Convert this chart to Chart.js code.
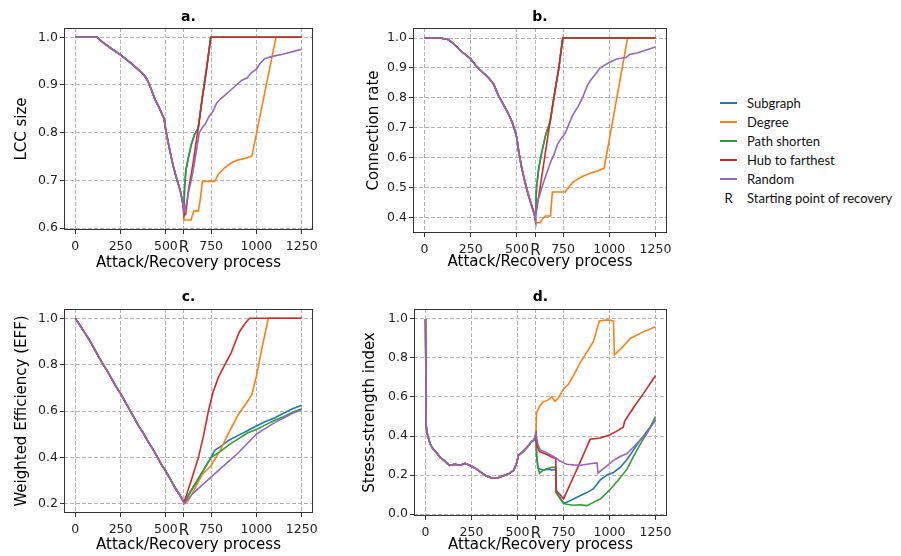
<!DOCTYPE html>
<html>
<head>
<meta charset="utf-8">
<script src="https://cdn.jsdelivr.net/npm/chart.js@4.4.1/dist/chart.umd.min.js"></script>
<style>
  body { margin: 0; background: #fff; }
  #wrap { position: relative; width: 901px; height: 556px; overflow: hidden; }
  canvas { position: absolute; }
  #legend { position: absolute; left: 720px; top: 93px; font-family: Lato, sans-serif; font-size: 13px; color: #111; }
  .row { height: 19px; display: flex; align-items: center; white-space: nowrap; }
  .sw { display: block; flex: 0 0 17px; width: 17px; height: 2px; margin-right: 10px; }
  .rk { flex: 0 0 17px; width: 17px; text-align: center; margin-right: 10px; }
</style>
</head>
<body>
<div id="wrap">
  <canvas id="ca" width="330" height="278" style="left:0;top:0"></canvas>
  <canvas id="cb" width="344" height="281" style="left:340px;top:0"></canvas>
  <canvas id="cc" width="330" height="276" style="left:0;top:280px"></canvas>
  <canvas id="cd" width="344" height="276" style="left:340px;top:280px"></canvas>
  <div id="legend"></div>
</div>
<script>
// tick positions, x = 600 is the start of recovery ("R")
const xTicks = [0, 250, 500, 600, 750, 1000, 1250];
const xTickLabels = ['0', '250', '500', 'R', '750', '1000', '1250'];
const yTicksA = [0.6, 0.7, 0.8, 0.9, 1.0];
const yTicksB = [0.4, 0.5, 0.6, 0.7, 0.8, 0.9, 1.0];
const yTicksC = [0.2, 0.4, 0.6, 0.8, 1.0];
const yTicksD = [0.0, 0.2, 0.4, 0.6, 0.8, 1.0];

const methods = ['Subgraph', 'Degree', 'Path shorten', 'Hub to farthest', 'Random'];
const colors = ['#1f77b4', '#ff7f0e', '#2ca02c', '#d62728', '#9467bd'];

// a. LCC size  ([step, value])
const aAttack = [[0,1.0],[120,1.0],[150,0.99],[200,0.976],[250,0.963],[300,0.948],[340,0.935],[380,0.921],[400,0.909],[420,0.89],[440,0.87],[460,0.855],[480,0.838],[490,0.83],[500,0.804],[510,0.785],[520,0.766],[540,0.731],[560,0.703],[580,0.678],[595,0.65],[600,0.633]];
const aSubgraph = [[600,0.64],[603,0.68],[610,0.72],[623,0.745],[641,0.776],[659,0.797],[678,0.808],[700,0.87],[725,0.935],[748,1.0],[1250,1.0]];
const aDegree = [[600,0.617],[640,0.617],[645,0.625],[655,0.636],[680,0.636],[690,0.66],[702,0.698],[770,0.698],[790,0.713],[826,0.727],[863,0.737],[900,0.743],[937,0.746],[975,0.751],[1108,1.0],[1250,1.0]];
const aPath = [[600,0.64],[603,0.68],[610,0.72],[623,0.745],[641,0.776],[659,0.797],[678,0.808],[700,0.87],[725,0.935],[748,1.0],[1250,1.0]];
const aHub = [[600,0.625],[610,0.63],[625,0.68],[650,0.735],[678,0.808],[700,0.87],[725,0.935],[748,1.0],[1250,1.0]];
const aRandom = [[600,0.633],[610,0.645],[625,0.675],[640,0.70],[655,0.73],[670,0.765],[685,0.80],[700,0.81],[720,0.82],[740,0.835],[760,0.845],[780,0.862],[800,0.87],[830,0.88],[860,0.89],[890,0.90],[920,0.91],[950,0.915],[970,0.925],[1000,0.933],[1020,0.945],[1045,0.955],[1070,0.958],[1100,0.961],[1150,0.965],[1200,0.97],[1250,0.975]];

// b. Connection rate
const bAttack = [[0,1.0],[90,1.0],[100,0.998],[125,0.996],[150,0.985],[175,0.97],[200,0.955],[225,0.943],[250,0.93],[275,0.91],[300,0.894],[325,0.88],[350,0.865],[375,0.845],[400,0.808],[425,0.78],[450,0.752],[475,0.718],[490,0.69],[500,0.665],[510,0.62],[525,0.57],[545,0.515],[565,0.47],[580,0.44],[595,0.41],[600,0.395]];
const bSubgraph = [[600,0.40],[606,0.50],[618,0.565],[635,0.62],[655,0.675],[680,0.721],[700,0.80],[727,0.90],[748,1.0],[1250,1.0]];
const bDegree = [[600,0.383],[627,0.383],[636,0.394],[654,0.406],[682,0.406],[692,0.486],[763,0.486],[772,0.495],[800,0.517],[827,0.528],[863,0.54],[900,0.549],[936,0.556],[972,0.565],[1099,1.0],[1250,1.0]];
const bPath = [[600,0.40],[606,0.50],[618,0.565],[635,0.62],[655,0.675],[680,0.721],[700,0.80],[727,0.90],[748,1.0],[1250,1.0]];
const bHub = [[600,0.41],[605,0.42],[620,0.48],[645,0.58],[672,0.69],[700,0.80],[727,0.90],[748,1.0],[1250,1.0]];
const bRandom = [[600,0.40],[610,0.45],[625,0.48],[645,0.52],[665,0.555],[685,0.59],[700,0.61],[720,0.645],[740,0.665],[760,0.68],[780,0.71],[800,0.74],[830,0.77],[855,0.80],[880,0.84],[900,0.86],[920,0.875],[950,0.90],[990,0.915],[1040,0.93],[1090,0.935],[1110,0.945],[1150,0.95],[1200,0.96],[1250,0.97]];

// c. Weighted Efficiency (EFF)
const cAttack = [[0,1.0],[25,0.97],[50,0.94],[75,0.91],[100,0.875],[125,0.84],[150,0.805],[175,0.775],[200,0.74],[225,0.705],[250,0.675],[275,0.64],[300,0.605],[325,0.57],[350,0.535],[375,0.505],[400,0.47],[425,0.44],[450,0.405],[475,0.37],[500,0.34],[525,0.305],[550,0.27],[575,0.24],[600,0.205]];
const cSubgraph = [[600,0.205],[650,0.27],[700,0.335],[750,0.40],[770,0.43],[800,0.445],[850,0.475],[900,0.495],[950,0.515],[1000,0.535],[1050,0.555],[1100,0.57],[1150,0.59],[1200,0.61],[1250,0.625]];
const cDegree = [[600,0.2],[620,0.21],[650,0.25],[700,0.325],[750,0.365],[800,0.43],[850,0.51],[900,0.585],[950,0.64],[975,0.67],[1000,0.75],[1030,0.87],[1066,1.0],[1250,1.0]];
const cPath = [[600,0.205],[650,0.27],[700,0.335],[750,0.40],[800,0.425],[850,0.455],[900,0.48],[950,0.505],[1000,0.52],[1050,0.54],[1100,0.56],[1150,0.575],[1200,0.595],[1250,0.61]];
const cHub = [[600,0.205],[640,0.30],[680,0.40],[710,0.50],[735,0.60],[760,0.68],[790,0.745],[826,0.80],[860,0.85],[885,0.90],[905,0.94],[935,0.975],[962,1.0],[1250,1.0]];
const cRandom = [[600,0.2],[650,0.245],[700,0.28],[750,0.315],[800,0.35],[850,0.385],[900,0.42],[950,0.46],[1000,0.50],[1050,0.525],[1100,0.55],[1150,0.57],[1200,0.59],[1250,0.605]];

// d. Stress-strength index
const dAttack = [[0,1.0],[4,0.45],[10,0.41],[25,0.36],[40,0.335],[60,0.315],[80,0.29],[100,0.275],[130,0.25],[160,0.255],[190,0.25],[215,0.26],[240,0.25],[270,0.235],[300,0.215],[330,0.195],[360,0.185],[390,0.185],[420,0.195],[450,0.205],[480,0.225],[495,0.26],[505,0.30],[530,0.32],[555,0.345],[575,0.37],[590,0.38],[600,0.41]];
const dSubgraph = [[600,0.41],[604,0.30],[612,0.235],[640,0.225],[668,0.23],[690,0.225],[708,0.23],[710,0.11],[731,0.085],[750,0.055],[768,0.06],[804,0.077],[840,0.094],[877,0.11],[913,0.13],[950,0.175],[986,0.20],[1022,0.213],[1059,0.24],[1095,0.28],[1132,0.33],[1168,0.38],[1204,0.425],[1250,0.48]];
const dDegree = [[600,0.41],[604,0.52],[622,0.555],[640,0.575],[668,0.585],[686,0.60],[704,0.578],[722,0.595],[750,0.64],[777,0.665],[804,0.71],[840,0.775],[877,0.83],[913,0.885],[945,0.99],[990,0.995],[1022,0.99],[1026,0.815],[1060,0.845],[1113,0.90],[1186,0.935],[1250,0.96]];
const dPath = [[600,0.41],[604,0.30],[610,0.24],[620,0.21],[640,0.225],[668,0.235],[690,0.24],[708,0.24],[710,0.11],[731,0.08],[750,0.055],[768,0.05],[804,0.045],[840,0.048],[877,0.043],[913,0.06],[950,0.077],[986,0.11],[1022,0.145],[1059,0.187],[1095,0.23],[1132,0.298],[1168,0.36],[1204,0.415],[1250,0.50]];
const dHub = [[600,0.41],[606,0.35],[620,0.32],[660,0.305],[690,0.29],[708,0.285],[710,0.12],[731,0.10],[750,0.077],[768,0.115],[804,0.19],[840,0.265],[877,0.345],[895,0.383],[950,0.39],[1000,0.405],[1040,0.425],[1075,0.445],[1082,0.475],[1130,0.545],[1190,0.625],[1250,0.71]];
const dRandom = [[600,0.41],[609,0.366],[622,0.33],[659,0.315],[695,0.295],[731,0.272],[768,0.255],[804,0.252],[840,0.25],[877,0.255],[913,0.26],[932,0.262],[938,0.21],[950,0.22],[986,0.247],[1022,0.275],[1059,0.295],[1095,0.31],[1132,0.345],[1168,0.38],[1204,0.415],[1250,0.485]];

const FONT = 'DejaVu Sans';

// axes box like matplotlib
const framePlugin = {
  id: 'frame',
  afterDatasetsDraw(chart) {
    const { ctx, chartArea: a } = chart;
    ctx.save();
    ctx.strokeStyle = '#333';
    ctx.lineWidth = 1;
    ctx.strokeRect(Math.round(a.left) + 0.5, Math.round(a.top) + 0.5,
      Math.round(a.right - a.left) - 1, Math.round(a.bottom - a.top) - 1);
    ctx.restore();
  }
};

function makePanel(id, p) {
  const datasets = p.series.map((rec, i) => ({
    label: methods[i],
    data: p.attack.concat(rec).map(d => ({ x: d[0], y: d[1] })),
    borderColor: colors[i],
    borderWidth: 1.6,
    pointRadius: 0,
    tension: 0,
    fill: false,
    order: 4 - i
  }));
  new Chart(document.getElementById(id), {
    type: 'line',
    data: { datasets },
    plugins: [framePlugin],
    options: {
      responsive: false,
      animation: false,
      layout: { autoPadding: false, padding: { left: 0, top: 0, right: p.padRight, bottom: 0 } },
      plugins: {
        legend: { display: false },
        tooltip: { enabled: false },
        title: {
          display: true, text: p.title, fullSize: false, color: '#000',
          font: { family: FONT, size: 14, weight: 'bold' },
          padding: { top: p.titleTop, bottom: p.titleBottom }
        }
      },
      scales: {
        x: {
          type: 'linear', min: -62.5, max: 1312.5,
          afterFit: s => { s.height = p.xH; },
          afterBuildTicks: s => { s.ticks = xTicks.map(v => ({ value: v })); },
          ticks: {
            autoSkip: false, maxRotation: 0, padding: 5, color: '#222',
            callback: v => xTickLabels[xTicks.indexOf(v)],
            font: c => ({ family: FONT, size: (c.tick && c.tick.value === 600) ? 15 : 12.5 })
          },
          grid: { color: '#b4b4b4', lineWidth: 1, tickLength: 4, tickColor: '#333', tickBorderDash: [] },
          border: { display: false, dash: [4, 2] },
          title: { display: true, text: 'Attack/Recovery process', color: '#000',
            font: { family: FONT, size: 15 }, padding: { top: 0, bottom: p.xTitleBottom } }
        },
        y: {
          type: 'linear', min: p.ymin, max: p.ymax,
          afterFit: s => { s.width = p.yW; },
          afterBuildTicks: s => { s.ticks = p.yTicks.map(v => ({ value: v })); },
          ticks: { padding: 2, color: '#222', font: { family: FONT, size: 12.5 }, callback: v => v.toFixed(1) },
          grid: { color: '#b4b4b4', lineWidth: 1, tickLength: 4, tickColor: '#333', tickBorderDash: [] },
          border: { display: false, dash: [4, 2] },
          title: { display: true, text: p.ylabel, color: '#000',
            font: { family: FONT, size: 15 }, padding: { top: p.yTitleTop, bottom: 0 } }
        }
      }
    }
  });
}

makePanel('ca', { title: 'a.', ylabel: 'LCC size', attack: aAttack,
  series: [aSubgraph, aDegree, aPath, aHub, aRandom], yTicks: yTicksA, ymin: 0.596, ymax: 1.0195,
  padRight: 17, yW: 64, xH: 48, titleTop: 9, titleBottom: 2.2, yTitleTop: 13.5, xTitleBottom: 6 });
makePanel('cb', { title: 'b.', ylabel: 'Connection rate', attack: bAttack,
  series: [bSubgraph, bDegree, bPath, bHub, bRandom], yTicks: yTicksB, ymin: 0.349, ymax: 1.0335,
  padRight: 17, yW: 73, xH: 48, titleTop: 9, titleBottom: 2.2, yTitleTop: 25.5, xTitleBottom: 10 });
makePanel('cc', { title: 'c.', ylabel: 'Weighted Efficiency (EFF)', attack: cAttack,
  series: [cSubgraph, cDegree, cPath, cHub, cRandom], yTicks: yTicksC, ymin: 0.16, ymax: 1.04,
  padRight: 17, yW: 64, xH: 43, titleTop: 9.4, titleBottom: 2.8, yTitleTop: 13.5, xTitleBottom: 2 });
makePanel('cd', { title: 'd.', ylabel: 'Stress-strength index', attack: dAttack,
  series: [dSubgraph, dDegree, dPath, dHub, dRandom], yTicks: yTicksD, ymin: -0.01, ymax: 1.051,
  padRight: 17, yW: 74, xH: 40, titleTop: 9.4, titleBottom: 2.8, yTitleTop: 21.5, xTitleBottom: 2 });

// legend
const leg = document.getElementById('legend');
methods.forEach((m, i) => {
  leg.insertAdjacentHTML('beforeend',
    `<div class="row"><span class="sw" style="background:${colors[i]}"></span><span>${m}</span></div>`);
});
leg.insertAdjacentHTML('beforeend',
  '<div class="row"><span class="rk">R</span><span>Starting point of recovery</span></div>');
</script>
</body>
</html>
